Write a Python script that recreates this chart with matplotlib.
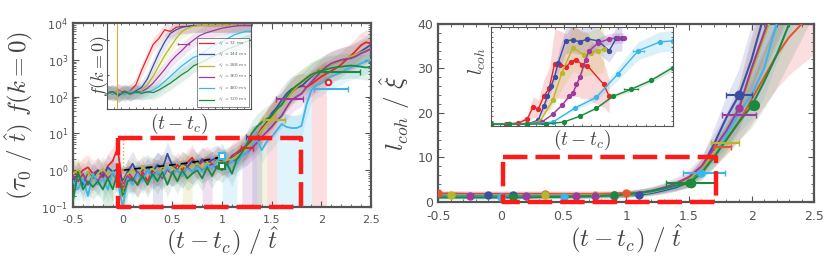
import numpy as np
import matplotlib
matplotlib.use('Agg')
import matplotlib.pyplot as plt
from matplotlib.ticker import MultipleLocator, LogLocator, NullFormatter

plt.rcParams['mathtext.fontset'] = 'cm'
plt.rcParams['font.family'] = 'DejaVu Sans'

colors = ['#e8262a', '#3a4ea3', '#b7b828', '#9d3c9f', '#3cb6e8', '#1b8a3e']
labels = [r'$\tau_Q$ = 72 ms', r'$\tau_Q$ = 144 ms', r'$\tau_Q$ = 288 ms',
          r'$\tau_Q$ = 360 ms', r'$\tau_Q$ = 480 ms', r'$\tau_Q$ = 720 ms']

# ---------------- left main panel: (tau0/t_hat) f(k=0) vs (t-tc)/t_hat
x_left = np.arange(-0.5, 2.5001, 0.05)
f_red = [0.9, 0.7, 1.0, 1.2, 0.8, 1.0, 0.6, 1.3, 1.8, 4.0, 0.3, 0.9, 0.6, 0.4, 0.9, 0.5,
         1.0, 0.8, 1.3, 1.0, 0.8, 1.4, 1.0, 1.6, 2.2, 1.2, 1.7, 2.0, 1.4, 2.0, 1.8, 1.5,
         2.5, 3.0, 4.0, 4.5, 6, 8, 14, 20, 30, 45, 60, 90, 130, 170, 200, 180, 220, 280,
         350, 420, 500, 600, 750, 1000, 1300, 1800, 2500, 3000, 2800]
f_blue = [0.5, 0.8, 0.4, 0.9, 0.6, 1.0, 0.7, 1.2, 0.9, 1.1, 0.5, 0.9, 1.5, 0.8, 1.0, 1.2,
          0.9, 1.4, 1.1, 2.8, 1.3, 1.0, 1.5, 1.2, 1.8, 1.3, 2.0, 1.5, 1.9, 2.2, 1.6, 1.8,
          2.2, 2.6, 3.5, 5, 7, 8, 12, 20, 35, 50, 80, 120, 160, 180, 190, 260, 350, 450,
          550, 650, 750, 850, 950, 1050, 1200, 1400, 1700, 2100, 2600]
f_yellow = [0.8, 1.0, 0.6, 0.9, 0.5, 0.8, 1.1, 0.7, 0.9, 0.6, 0.4, 0.8, 1.0, 0.7, 1.2, 0.9,
            1.1, 0.8, 1.3, 1.0, 1.2, 0.9, 1.4, 1.1, 1.3, 1.5, 1.2, 1.6, 1.4, 1.8, 1.6, 1.9,
            2.0, 2.5, 3.0, 4.0, 5.5, 8, 12, 18, 25, 40, 60, 90, 130, 180, 250, 300, 380, 460,
            550, 650, 750, 850, 950, 1100, 1250, 1400, 1600, 1800, 2000]
f_purple = [0.7, 0.5, 0.8, 0.4, 0.7, 0.5, 0.9, 0.6, 0.8, 0.5, 0.4, 0.7, 0.5, 0.9, 0.6, 1.0,
            0.7, 0.9, 0.6, 1.1, 0.8, 1.0, 0.7, 1.2, 0.9, 1.3, 1.0, 1.2, 1.5, 1.1, 1.6, 1.4,
            1.7, 2.0, 2.5, 3.0, 4.0, 5.5, 8, 11, 15, 22, 30, 50, 80, 100, 120, 180, 250, 350,
            500, 650, 800, 900, 1000, 1050, 1100, 1250, 1500, 1700, 2000]
f_lblue = [0.5, 0.3, 0.6, 0.2, 0.8, 0.4, 0.6, 0.3, 0.9, 0.5, 0.1, 0.6, 0.4, 0.8, 0.5, 1.0,
           0.6, 0.9, 0.7, 1.2, 0.8, 1.0, 0.7, 1.1, 0.9, 1.3, 0.9, 1.4, 1.1, 1.8, 2.5, 1.2,
           1.8, 1.5, 2.5, 3.0, 5, 7, 3.5, 6, 8, 12, 18, 15, 14, 14, 16, 60, 150, 200,
           230, 300, 350, 400, 450, 550, 630, 700, 800, 900, 1000]
f_green = [0.15, 0.9, 0.3, 0.5, 0.35, 0.5, 0.3, 0.6, 0.3, 0.9, 0.2, 0.5, 0.6, 0.4, 0.7, 0.4,
           0.8, 0.5, 0.9, 0.4, 0.9, 0.5, 1.0, 0.6, 0.8, 1.0, 0.6, 1.2, 0.7, 1.3, 1.0, 1.5,
           0.8, 2.0, 3.0, 5, 10, 15, 20, 25, 30, 45, 60, 100, 150, 200, 250, 320, 400, 450,
           500, 550, 600, 630, 650, 680, 700, 680, 650, 620, 650]
f_series = [f_red, f_blue, f_yellow, f_purple, f_lblue, f_green]

# shaded drop-outs reaching the bottom of the log axis (series index, x0, x1)
drop_spans = [(4, 1.55, 1.9), (0, 1.9, 2.05), (3, 1.2, 1.35), (2, 1.35, 1.45),
              (1, 1.3, 1.4), (4, 1.0, 1.15), (0, 1.45, 1.55), (3, 0.8, 0.9),
              (2, 0.6, 0.7), (1, 0.3, 0.4), (5, -0.2, -0.1), (4, 0.0, 0.05)]

# horizontal error bars on the left panel (series index, x, y, xerr)
left_err = [(0, 1.25, 4.0, 0.06), (1, 1.3, 8.0, 0.06), (2, 1.52, 23, 0.11),
            (3, 1.68, 85, 0.14), (4, 2.1, 160, 0.17), (5, 2.18, 460, 0.21)]
dash_x = [0.0, 0.2, 0.4, 0.6, 0.8, 1.0]
dash_y = [1.0, 1.15, 1.3, 1.5, 1.8, 2.3]

# ---------------- left inset
x_inl = np.linspace(0, 1, 26)
g_red = [1.0, 0.71, 1.26, 0.79, 1.12, 2.5, 18, 100, 560, 1260, 4000, 3200, 5600, 6300,
         6300, 7100, 7100, 7100, 7100, 7100, 7100, 7100, 7100, 7100, 7100, 7100]
g_blue = [0.89, 1.0, 0.63, 1.0, 0.79, 1.12, 1.78, 5.6, 32, 178, 790, 2500, 4000, 5600,
          6300, 7100, 7100, 7100, 7100, 7100, 7100, 7100, 7100, 7100, 7100, 7100]
g_yellow = [1.0, 0.79, 1.12, 0.71, 1.0, 0.89, 1.26, 2.5, 7.9, 32, 126, 400, 1260, 3200,
            5000, 6300, 7100, 7100, 7100, 7100, 7100, 7100, 7100, 7100, 7100, 7100]
g_purple = [0.89, 1.0, 0.71, 1.12, 0.79, 1.0, 1.0, 1.58, 3.2, 7.9, 20, 56, 126, 250,
            560, 1000, 1780, 2500, 3200, 4000, 5000, 5600, 6300, 7100, 7100, 7100]
g_lblue = [1.0, 0.71, 1.0, 0.63, 1.12, 0.79, 1.0, 0.89, 1.26, 2.0, 4.0, 7.9, 16, 32,
           56, 100, 126, 224, 400, 560, 790, 1260, 2000, 2500, 3200, 3200]
g_green = [0.79, 1.0, 0.56, 1.0, 0.71, 1.0, 0.79, 1.0, 0.89, 1.26, 2.0, 3.2, 5.6, 10,
           16, 32, 45, 63, 100, 141, 200, 316, 400, 560, 790, 1000]
g_series = [g_red, g_blue, g_yellow, g_purple, g_lblue, g_green]

# ---------------- right main panel: l_coh / xi_hat
x_right = [-0.5, -0.4, -0.25, -0.1, 0.0, 0.1, 0.2, 0.35, 0.5, 0.6, 0.75, 0.9, 1.0, 1.1,
           1.2, 1.3, 1.4, 1.5, 1.6, 1.7, 1.8, 1.9, 2.0, 2.1, 2.2, 2.3, 2.4, 2.5]
l_red = [1.9, 1.9, 1.8, 1.8, 1.8, 1.8, 1.8, 1.8, 1.8, 1.8, 1.8, 1.9, 2.0, 2.1,
         2.3, 2.8, 3.6, 5.0, 7.5, 10.5, 14, 18, 23, 28, 33, 37, 40, 43]
l_blue = [1.6, 1.6, 1.6, 1.6, 1.6, 1.6, 1.6, 1.6, 1.5, 1.5, 1.5, 1.5, 1.6, 1.6,
          2.0, 2.6, 3.3, 4.5, 7.5, 13, 19, 24, 32, 42, 50, 58, 66, 74]
l_yellow = [1.5, 1.5, 1.5, 1.5, 1.5, 1.5, 1.5, 1.5, 1.5, 1.5, 1.5, 1.5, 1.6, 1.8,
            2.2, 2.9, 3.8, 5.0, 7.5, 11, 14.5, 21, 29, 37, 45, 53, 61, 69]
l_purple = [1.3, 1.3, 1.3, 1.3, 1.3, 1.3, 1.3, 1.3, 1.3, 1.3, 1.3, 1.4, 1.6, 2.0,
            2.5, 3.2, 4.2, 5.6, 8.0, 12, 16, 21, 30, 38, 46, 54, 62, 70]
l_lblue = [1.2, 1.2, 1.2, 1.2, 1.2, 1.2, 1.2, 1.2, 1.2, 1.2, 1.3, 1.4, 1.6, 1.9,
           2.3, 2.9, 3.6, 4.5, 6.5, 10, 15, 20, 24, 30, 40, 48, 56, 64]
l_green = [1.0, 1.0, 1.0, 1.0, 1.0, 1.0, 1.0, 1.1, 1.1, 1.2, 1.3, 1.5, 1.7, 2.0,
           2.4, 3.0, 3.7, 4.2, 6.5, 10, 14, 18, 21.5, 27, 33, 40, 47, 54]
l_series = [l_red, l_blue, l_yellow, l_purple, l_lblue, l_green]
l_marks = [[0, 7, 12], [3, 5, 11, 13, 21], [1, 7, 10, 11], [2, 6, 9, 10, 11, 21],
           [4, 8, 18], [5, 11, 17, 22]]
right_err = [(1, 1.9, 24, 0.1), (3, 1.9, 19.5, 0.135), (2, 1.79, 13.3, 0.11),
             (0, 1.77, 12.4, 0.066), (4, 1.62, 6.5, 0.17), (5, 1.52, 4.2, 0.2)]

# ---------------- right inset: l_coh vs (t - tc)
inr_red_x = [0.0, 0.08, 0.15, 0.2, 0.23, 0.26, 0.29, 0.32, 0.35, 0.38, 0.415, 0.44, 0.47,
             0.5, 0.53, 0.62, 0.65]
inr_red_y = [0.02, 0.02, 0.03, 0.07, 0.19, 0.17, 0.3, 0.38, 0.63, 0.62, 0.6, 0.65, 0.67,
             0.62, 0.61, 0.42, 0.3]
inr_blue_x = [0.0, 0.1, 0.2, 0.26, 0.29, 0.31, 0.33, 0.35, 0.37, 0.41, 0.45, 0.49, 0.53,
              0.59, 0.65, 0.69, 0.72]
inr_blue_y = [0.02, 0.02, 0.02, 0.06, 0.2, 0.3, 0.4, 0.5, 0.64, 0.86, 0.87, 0.85, 0.88,
              0.86, 0.76, 0.89, 0.89]
inr_yellow_x = [0.0, 0.1, 0.2, 0.27, 0.34, 0.39, 0.45, 0.51, 0.55, 0.59, 0.62]
inr_yellow_y = [0.02, 0.02, 0.02, 0.05, 0.26, 0.54, 0.79, 0.72, 0.74, 0.76, 0.78]
inr_purple_x = [0.0, 0.1, 0.2, 0.28, 0.34, 0.39, 0.43, 0.45, 0.47, 0.49, 0.52, 0.54, 0.59,
                0.65, 0.7, 0.73]
inr_purple_y = [0.02, 0.02, 0.02, 0.04, 0.12, 0.21, 0.3, 0.33, 0.42, 0.5, 0.67, 0.76, 0.84,
                0.88, 0.89, 0.89]
inr_lblue_x = [0.0, 0.1, 0.2, 0.34, 0.46, 0.58, 0.7, 0.81, 0.93, 1.0]
inr_lblue_y = [0.02, 0.02, 0.02, 0.04, 0.18, 0.29, 0.53, 0.76, 0.85, 0.86]
inr_green_x = [0.0, 0.1, 0.2, 0.3, 0.4, 0.49, 0.58, 0.67, 0.77, 0.88, 1.0]
inr_green_y = [0.02, 0.02, 0.02, 0.02, 0.04, 0.1, 0.18, 0.3, 0.37, 0.46, 0.59]
inr_x = [inr_red_x, inr_blue_x, inr_yellow_x, inr_purple_x, inr_lblue_x, inr_green_x]
inr_y = [inr_red_y, inr_blue_y, inr_yellow_y, inr_purple_y, inr_lblue_y, inr_green_y]
inr_band = [0.55, 0.15, 0.3, 0.06, 0.12, 0.05]

gray = '#555555'
txt = '#444444'


def style_axes(ax, lw=1.6, labels_on=True):
    for s in ax.spines.values():
        s.set_color(gray)
        s.set_linewidth(lw)
    ax.tick_params(which='both', direction='in', top=True, right=True, colors=gray,
                   labelsize=8, labelcolor=gray)
    ax.tick_params(which='major', length=4, width=0.8)
    ax.tick_params(which='minor', length=2, width=0.6)
    ax.tick_params(axis='x', pad=6)
    if not labels_on:
        ax.tick_params(which='both', labelbottom=False, labelleft=False)


fig = plt.figure(figsize=(8.3, 2.65), dpi=100)

# ===== left main
ax1 = fig.add_axes([0.088, 0.219, 0.359, 0.694])
for i, ys in enumerate(f_series):
    ys = np.array(ys)
    ax1.fill_between(x_left, ys / 2.2, ys * 2.2, color=colors[i], alpha=0.13, lw=0)
for ci, x0, x1 in drop_spans:
    m = (x_left >= x0 - 1e-9) & (x_left <= x1 + 1e-9)
    ys = np.array(f_series[ci])[m]
    ax1.fill_between(x_left[m], 0.1, ys * 2.2, color=colors[ci], alpha=0.15, lw=0)
ax1.plot(dash_x, dash_y, color='#999999', lw=4, alpha=0.6, zorder=3)
for i, ys in enumerate(f_series):
    ax1.plot(x_left, ys, color=colors[i], lw=1.3, zorder=4)
ax1.plot(dash_x, dash_y, color='black', lw=1.2, ls=(0, (4, 3)), zorder=5)
for ci, xx, yy, xe in left_err:
    ax1.errorbar(xx, yy, xerr=xe, color=colors[ci], lw=1.5, capsize=2, zorder=6)
ax1.plot([1.0], [2.4], 's', mfc='white', mec=colors[4], mew=1.5, ms=4, zorder=7)
ax1.plot([1.0], [1.3], 's', mfc='white', mec=colors[5], mew=1.5, ms=4, zorder=7)
ax1.plot([2.07], [250], 'o', mfc='white', mec=colors[0], mew=1.5, ms=4, zorder=7)
ax1.plot([0.0, 0.0], [0.1, 7], color='#f0a020', lw=1, ls=':', zorder=5)
ax1.plot([-0.05, 1.8, 1.8, -0.05, -0.05], [7.5, 7.5, 0.1, 0.1, 7.5], color='#ff1a1a',
         lw=3.2, ls=(0, (5.5, 1.8)), clip_on=False, zorder=8)
ax1.set_yscale('log')
ax1.set_xlim(-0.5, 2.5)
ax1.set_ylim(0.1, 1e4)
ax1.set_xticks([-0.5, 0, 0.5, 1, 1.5, 2, 2.5])
ax1.set_xticklabels(['-0.5', '0', '0.5', '1', '1.5', '2', '2.5'])
ax1.xaxis.set_minor_locator(MultipleLocator(0.1))
ax1.yaxis.set_minor_locator(LogLocator(subs=np.arange(2, 10)))
ax1.yaxis.set_minor_formatter(NullFormatter())
style_axes(ax1)
ax1.set_xlabel(r'$(t-t_c)\ /\ \hat{t}$', fontsize=18, color=txt, labelpad=0)
ax1.set_ylabel(r'$(\tau_0\ /\ \hat{t})\ f(k=0)$', fontsize=18, color=txt, labelpad=4)

# ===== left inset
axi = fig.add_axes([0.129, 0.589, 0.1735, 0.3245])
for i, ys in enumerate(g_series):
    ys = np.array(ys)
    axi.fill_between(x_inl, ys / 2.5, ys * 2.5, color=colors[i], alpha=0.13, lw=0)
for i, ys in enumerate(g_series):
    axi.plot(x_inl, ys, color=colors[i], lw=0.9, label=labels[i])
axi.errorbar(0.53, 560, xerr=0.04, color=colors[3], lw=0.8, capsize=1)
axi.axvline(0.07, color='#f0a020', lw=0.7)
axi.set_yscale('log')
axi.set_xlim(0, 1)
axi.set_ylim(0.1, 1e4)
axi.xaxis.set_minor_locator(MultipleLocator(0.05))
axi.yaxis.set_minor_formatter(NullFormatter())
style_axes(axi, lw=0.8, labels_on=False)
axi.tick_params(which='both', length=1.5)
leg = axi.legend(loc='lower right', fontsize=3.2, frameon=True, fancybox=False,
                 handlelength=3.5, borderpad=0.4, labelspacing=0.5, edgecolor='#333333')
leg.get_frame().set_linewidth(0.5)
for t in leg.get_texts():
    t.set_color('#666666')
axi.set_xlabel(r'$(t-t_c)$', fontsize=14, color=txt, labelpad=2)
axi.set_ylabel(r'$f(k=0)$', fontsize=13, color=txt, labelpad=-3)

# ===== right main
ax2 = fig.add_axes([0.528, 0.238, 0.453, 0.672])
for i, ys in enumerate(l_series):
    ys = np.array(ys)
    sp = 0.22 * ys + 0.3
    ax2.fill_between(x_right, ys - sp, ys + sp, color=colors[i], alpha=0.15, lw=0)
for i, ys in enumerate(l_series):
    c = '#e8552e' if i == 0 else colors[i]
    ax2.plot(x_right, ys, color=c, lw=1.5, zorder=4)
    mk = l_marks[i]
    ax2.plot([x_right[k] for k in mk], [ys[k] for k in mk], 'o', color=c, ms=5, zorder=5)
for ci, xx, yy, xe in right_err:
    c = '#e8552e' if ci == 0 else colors[ci]
    ax2.errorbar(xx, yy, xerr=xe, fmt='o', color=c, ms=6 if ci in (1, 5) else 0,
                 lw=1.5, capsize=2, zorder=6)
ax2.plot([2.02], [21.8], 'o', color=colors[5], ms=7, zorder=7)
ax2.plot([0.02, 1.72, 1.72, 0.02, 0.02], [10, 10, 0, 0, 10], color='#ff1a1a',
         lw=3.2, ls=(0, (5.5, 1.8)), clip_on=False, zorder=8)
ax2.set_xlim(-0.5, 2.5)
ax2.set_ylim(0, 40)
ax2.set_xticks([-0.5, 0, 0.5, 1, 1.5, 2, 2.5])
ax2.set_xticklabels(['-0.5', '0', '0.5', '1', '1.5', '2', '2.5'])
ax2.xaxis.set_minor_locator(MultipleLocator(0.1))
ax2.yaxis.set_major_locator(MultipleLocator(10))
ax2.yaxis.set_minor_locator(MultipleLocator(2))
style_axes(ax2)
ax2.tick_params(labelsize=9)
ax2.set_xlabel(r'$(t-t_c)\ /\ \hat{t}$', fontsize=18, color=txt, labelpad=0)
ax2.set_ylabel(r'$l_{coh}\ /\ \hat{\xi}$', fontsize=18, color=txt, labelpad=4)

# ===== right inset
axr = fig.add_axes([0.5916, 0.5245, 0.219, 0.3736])
for i in range(6):
    xs = np.array(inr_x[i])
    ys = np.array(inr_y[i])
    axr.fill_between(xs, ys * (1 - inr_band[i]), np.minimum(ys * (1 + inr_band[i]), 1),
                     color=colors[i], alpha=0.18, lw=0)
for i in range(6):
    axr.plot(inr_x[i], inr_y[i], '-o', color=colors[i], lw=1, ms=2.8)
axr.errorbar(0.81, 0.76, xerr=0.03, color=colors[4], lw=0.8, capsize=1)
axr.errorbar(0.77, 0.37, xerr=0.04, color=colors[5], lw=0.8, capsize=1)
axr.set_xlim(0, 1)
axr.set_ylim(0, 1)
axr.xaxis.set_minor_locator(MultipleLocator(0.05))
axr.yaxis.set_minor_locator(MultipleLocator(0.05))
axr.xaxis.set_major_locator(MultipleLocator(0.2))
axr.yaxis.set_major_locator(MultipleLocator(0.2))
style_axes(axr, lw=0.8, labels_on=False)
axr.tick_params(which='both', length=1.5)
axr.set_xlabel(r'$(t-t_c)$', fontsize=14, color=txt, labelpad=1)
axr.set_ylabel(r'$l_{coh}$', fontsize=14, color=txt, labelpad=2, y=0.65)

fig.savefig('out.png', dpi=100)
